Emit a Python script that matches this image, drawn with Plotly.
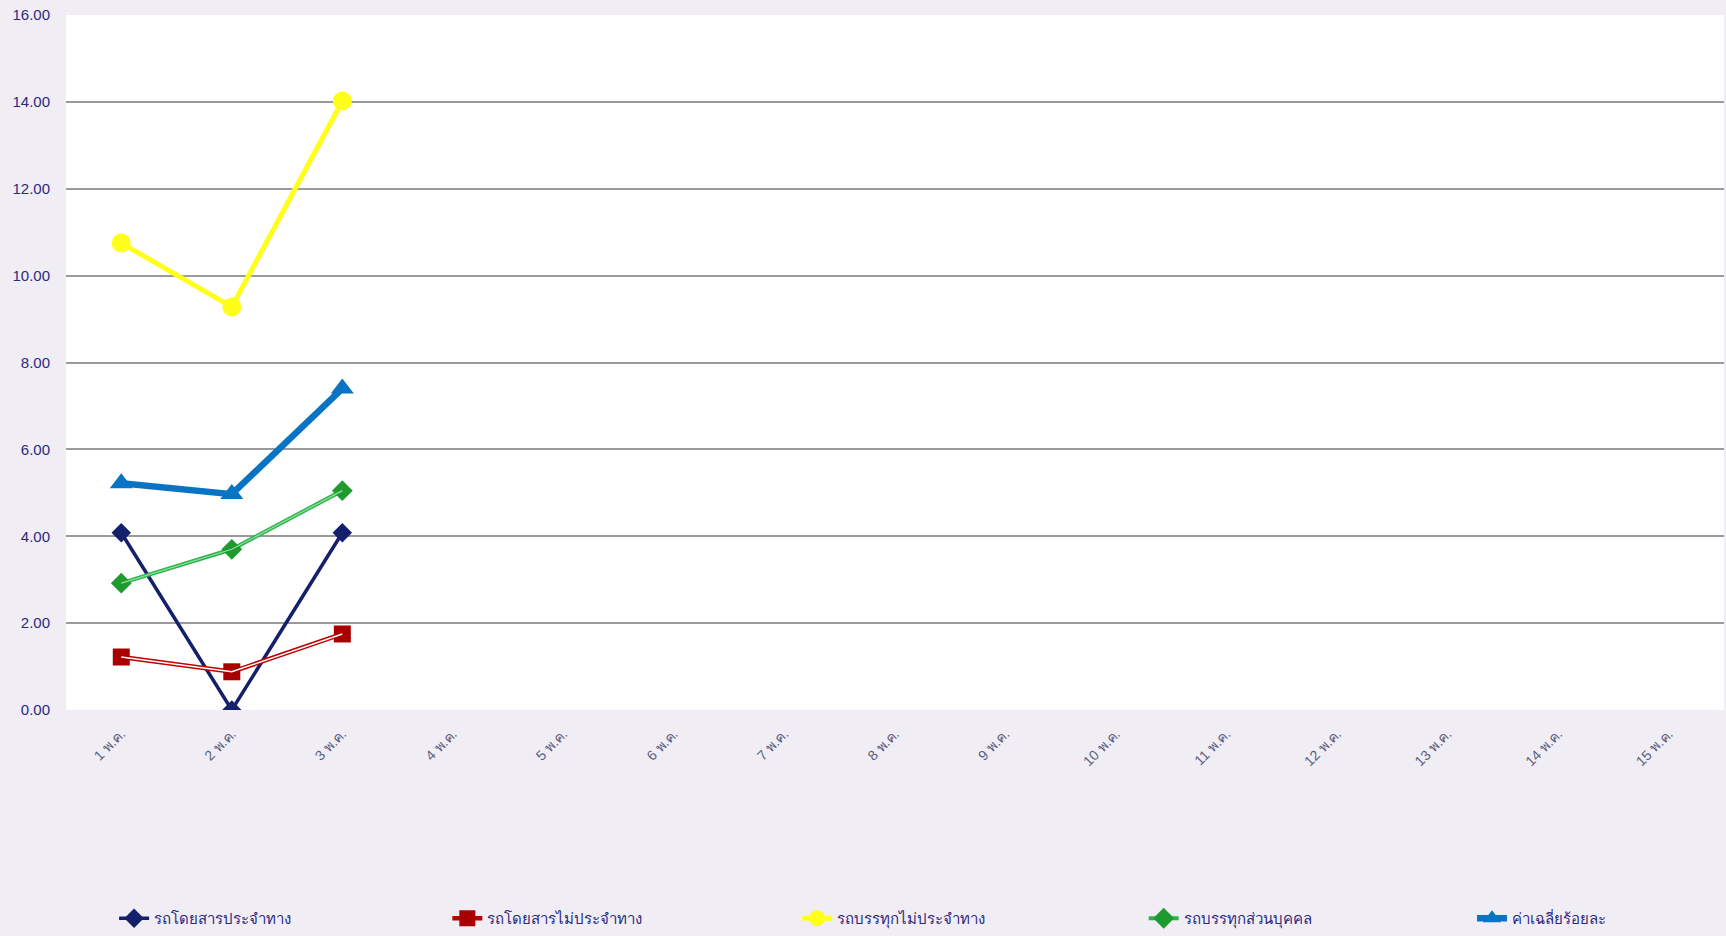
import plotly.graph_objects as go

categories = [f"{i} พ.ค." for i in range(1, 16)]
s_bus_route = [4.08, 0.0, 4.08]
s_bus_nonroute = [1.22, 0.88, 1.75]
s_truck_nonroute = [10.75, 9.28, 14.02]
s_truck_private = [2.92, 3.70, 5.05]
s_average = [5.22, 4.97, 7.40]
names = ["รถโดยสารประจำทาง", "รถโดยสารไม่ประจำทาง", "รถบรรทุกไม่ประจำทาง", "รถบรรทุกส่วนบุคคล", "ค่าเฉลี่ยร้อยละ"]
y_ticks = [0, 2, 4, 6, 8, 10, 12, 14, 16]

x3 = categories[:3]
fig = go.Figure()
fig.add_trace(go.Scatter(x=x3, y=s_bus_route, name=names[0], mode="lines+markers", legend="legend",
                         line=dict(color="#14206B", width=3.5),
                         marker=dict(symbol="diamond", size=15, color="#14206B")))
fig.add_trace(go.Scatter(x=x3, y=s_bus_nonroute, name=names[1], mode="lines+markers", legend="legend2",
                         line=dict(color="#C00000", width=4.5),
                         marker=dict(symbol="square", size=17, color="#A80000")))
fig.add_trace(go.Scatter(x=x3, y=s_bus_nonroute, showlegend=False, hoverinfo="skip", mode="lines",
                         line=dict(color="white", width=1.5)))
fig.add_trace(go.Scatter(x=x3, y=s_truck_nonroute, name=names[2], mode="lines+markers", legend="legend3",
                         line=dict(color="#FFFF1A", width=5),
                         marker=dict(symbol="circle", size=19, color="#FFFF1A")))
fig.add_trace(go.Scatter(x=x3, y=s_truck_private, name=names[3], mode="lines+markers", legend="legend4",
                         line=dict(color="#2DB34A", width=4),
                         marker=dict(symbol="diamond", size=16, color="#1E9A2E")))
fig.add_trace(go.Scatter(x=x3, y=s_truck_private, showlegend=False, hoverinfo="skip", mode="lines",
                         line=dict(color="#8FE0A0", width=1.2)))
fig.add_trace(go.Scatter(x=x3, y=s_average, name=names[4], mode="lines+markers", legend="legend5",
                         line=dict(color="#0A74C4", width=6.5),
                         marker=dict(symbol="triangle-up", size=20, color="#0A74C4")))

legend_style = dict(orientation="h", y=-0.30, xanchor="left", yanchor="middle",
                    font=dict(size=15, color="#2B2A80"), bgcolor="rgba(0,0,0,0)")
legend_x = [0.029, 0.230, 0.441, 0.650, 0.848]

fig.update_layout(
    width=1726, height=936,
    paper_bgcolor="#F1EDF5", plot_bgcolor="white",
    margin=dict(l=66, r=2, t=15, b=226, autoexpand=False),
    font=dict(family="Liberation Sans Narrow, Liberation Sans, sans-serif", color="#2B2A80"),
    xaxis=dict(type="category", categoryorder="array", categoryarray=categories,
               tickvals=categories, ticktext=categories,
               range=[-0.5, 14.5], showgrid=False, tickangle=-45,
               tickfont=dict(size=14, color="#5A5F80"), ticks="", showline=False,
               zeroline=False, ticklabelstandoff=12),
    yaxis=dict(range=[0, 16], tickvals=y_ticks, tickformat=".2f",
               gridcolor="#9A9A9A", gridwidth=1.5, zeroline=False,
               showline=False, tickfont=dict(size=15, color="#2B2A80"), ticks="",
               ticklabelstandoff=15),
    legend=dict(legend_style, x=legend_x[0]),
    legend2=dict(legend_style, x=legend_x[1]),
    legend3=dict(legend_style, x=legend_x[2]),
    legend4=dict(legend_style, x=legend_x[3]),
    legend5=dict(legend_style, x=legend_x[4]),
    showlegend=True,
)
fig.write_html("out.html", config={"displayModeBar": False},
               post_script="document.body.style.margin='0';document.body.style.overflow='hidden';document.body.style.background='#F1EDF5';")
